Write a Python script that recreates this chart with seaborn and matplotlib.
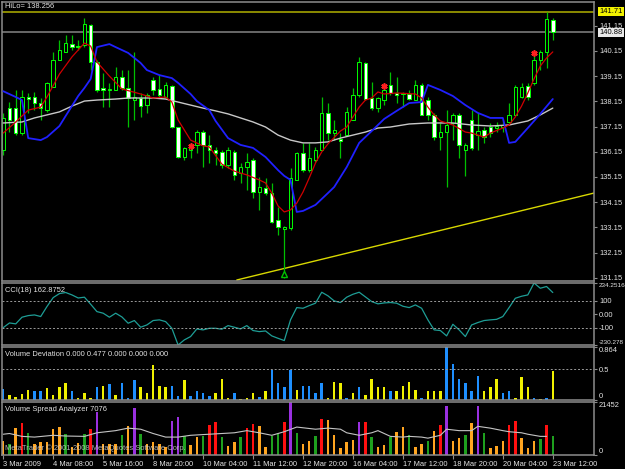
import matplotlib
matplotlib.use("Agg")
import matplotlib.pyplot as plt
import matplotlib.transforms as mtransforms
import seaborn as sns
import pandas as pd

# ---- H4 candles 3 Mar 2009 00:00 .. 23 Mar 2009 12:00 ----
opens = [136.22, 137.88, 137.88, 136.89, 138.32, 138.32, 138.08, 137.80, 138.72, 139.79,
         140.11, 140.42, 140.34, 140.38, 141.18, 139.71, 138.68, 138.60, 138.60, 139.11,
         138.68, 138.20, 138.28, 138.00, 138.99, 138.64, 138.32, 138.76, 137.13, 135.94,
         136.22, 136.42, 136.93, 136.42, 136.22, 136.14, 135.62, 136.14, 135.30, 135.54,
         135.82, 134.55, 134.71, 134.51, 133.44, 133.08, 133.12, 135.03, 136.10, 135.42,
         135.82, 136.22, 137.69, 136.89, 136.65, 136.81, 137.41, 138.40, 139.67, 138.28,
         137.88, 138.20, 138.80, 138.48, 138.44, 138.44, 138.20, 138.80, 138.20, 137.61,
         136.73, 136.93, 137.29, 137.61, 136.22, 137.41, 136.81, 137.01, 137.13, 137.09,
         137.13, 137.33, 137.61, 138.32, 138.76, 138.88, 139.79, 140.11, 141.38]
highs = [137.69, 138.12, 138.60, 138.60, 138.48, 138.52, 138.28, 138.92, 140.11, 140.58,
         140.78, 140.78, 140.58, 141.46, 141.22, 139.79, 139.27, 138.88, 139.51, 139.39,
         139.39, 140.11, 138.48, 138.48, 139.11, 139.19, 138.92, 138.80, 137.13, 136.34,
         136.50, 137.01, 137.01, 136.81, 136.34, 136.22, 136.34, 136.22, 135.70, 136.10,
         135.90, 135.15, 135.11, 134.91, 133.96, 133.20, 135.50, 136.14, 136.50, 136.50,
         136.34, 138.32, 138.08, 137.41, 136.89, 137.92, 138.68, 139.91, 139.71, 138.92,
         138.32, 138.80, 139.31, 139.11, 138.52, 138.60, 138.99, 138.88, 138.32, 137.69,
         137.29, 137.80, 137.69, 137.69, 136.50, 137.80, 137.69, 137.13, 137.29, 137.33,
         137.41, 138.08, 138.80, 138.88, 138.88, 139.99, 140.19, 141.71, 141.46]
lows = [136.02, 136.93, 136.81, 136.81, 137.69, 137.80, 137.41, 137.73, 138.72, 139.79,
        140.11, 140.19, 140.19, 140.30, 139.39, 138.52, 137.92, 137.92, 138.60, 138.60,
        137.13, 137.41, 137.53, 137.69, 138.40, 138.28, 138.28, 137.09, 135.90, 135.82,
        135.90, 136.10, 135.54, 135.70, 135.62, 135.50, 135.50, 135.03, 134.91, 134.63,
        134.31, 133.84, 134.43, 133.32, 132.84, 131.14, 133.04, 135.03, 135.34, 135.34,
        135.74, 136.22, 136.61, 136.61, 135.90, 136.81, 137.41, 138.32, 138.20, 137.80,
        137.73, 138.00, 138.40, 138.08, 137.92, 138.20, 138.20, 137.61, 137.41, 136.61,
        136.22, 134.75, 136.61, 135.90, 135.19, 136.22, 136.22, 136.50, 136.73, 136.93,
        136.93, 137.29, 137.61, 138.28, 138.20, 138.80, 139.39, 139.47, 140.58]
closes = [137.49, 137.41, 136.89, 138.32, 138.24, 138.08, 137.88, 138.88, 139.79, 140.19,
          140.46, 140.30, 140.30, 141.22, 139.71, 138.60, 138.60, 138.64, 139.11, 138.68,
          138.28, 138.32, 137.96, 138.40, 138.60, 138.40, 138.80, 137.13, 135.94, 136.30,
          136.34, 136.93, 136.42, 136.22, 136.10, 135.62, 136.22, 135.23, 135.54, 135.74,
          134.55, 134.75, 134.51, 133.36, 133.16, 133.16, 135.11, 136.10, 135.42, 135.90,
          136.22, 137.69, 136.89, 137.01, 136.57, 137.73, 138.40, 139.71, 138.24, 137.88,
          138.28, 138.60, 138.48, 138.40, 138.48, 138.24, 138.80, 137.61, 137.61, 136.73,
          136.93, 137.21, 137.61, 136.42, 136.42, 136.30, 136.97, 136.73, 136.89, 137.17,
          137.21, 137.61, 138.72, 138.72, 138.32, 139.79, 140.11, 141.42, 140.88]

# indicator lines on the price window (bar index, price)
red_bars = [0, 2, 4, 6, 7, 9, 11, 13, 14, 15, 17, 19, 22, 24, 26, 27, 28, 30, 32, 33,
            35, 37, 39, 41, 42, 43, 44, 45, 46, 47, 48, 49, 50, 51, 52, 54, 55, 56, 57, 58,
            59, 60, 61, 63, 66, 67, 68, 69, 70, 72, 74, 75, 77, 78, 80, 81, 82, 83, 84, 85,
            86, 87, 88]
red_ma = [136.89, 137.33, 137.80, 137.92, 138.32, 139.23, 139.91, 140.46, 140.34, 139.71,
          139.15, 138.64, 138.44, 138.28, 138.32, 138.12, 137.41, 136.61, 136.38, 136.34,
          135.66, 135.38, 135.23, 135.03, 134.91, 134.51, 134.00, 133.76, 133.84, 134.11,
          134.55, 135.11, 135.70, 136.14, 136.46, 136.97, 137.13, 137.53, 137.92, 138.20,
          138.28, 138.52, 138.44, 138.48, 138.44, 138.28, 137.92, 137.61, 137.37, 137.21,
          136.93, 136.89, 136.73, 136.89, 137.09, 137.21, 137.53, 137.96, 138.48, 139.04,
          139.55, 139.87, 140.11]
blue_bars = [0, 2, 3, 4, 6, 7, 9, 10, 12, 13, 14, 15, 17, 18, 20, 22, 23, 25, 27, 28,
             30, 31, 33, 34, 36, 38, 40, 42, 44, 45, 46, 47, 48, 50, 52, 53, 55, 56, 57, 59,
             61, 63, 65, 67, 68, 70, 72, 74, 76, 78, 80, 81, 82, 84, 86, 88]
blue_ma = [138.55, 138.32, 138.20, 136.69, 136.61, 136.73, 137.17, 137.57, 138.36, 138.68,
           139.04, 140.30, 140.42, 140.30, 140.07, 139.67, 139.39, 139.19, 139.07, 138.88,
           138.44, 138.16, 137.80, 137.37, 136.69, 136.42, 136.30, 135.94, 135.42, 135.19,
           135.03, 133.76, 133.80, 134.04, 134.51, 134.75, 135.54, 136.02, 136.50, 136.97,
           137.45, 137.77, 138.08, 138.12, 138.80, 138.60, 138.36, 138.00, 137.69, 137.49,
           137.49, 136.50, 136.54, 137.09, 137.65, 138.24]
white_bars = [0, 3, 5, 7, 9, 11, 13, 15, 18, 20, 24, 26, 28, 30, 32, 34, 36, 38, 40, 42,
              44, 46, 48, 50, 52, 54, 56, 58, 60, 62, 65, 68, 72, 75, 78, 81, 84, 86, 88]
white_ma = [137.29, 137.33, 137.49, 137.61, 137.73, 137.96, 138.16, 138.20, 138.24, 138.28,
            138.28, 138.24, 138.12, 138.00, 137.88, 137.77, 137.65, 137.49, 137.33, 137.13,
            136.81, 136.61, 136.50, 136.50, 136.54, 136.69, 136.81, 136.93, 137.09, 137.13,
            137.25, 137.29, 137.29, 137.21, 137.17, 137.21, 137.37, 137.61, 137.88]
star_bars = [30, 61, 85]
star_prices = [136.39, 138.76, 140.08]
arrow_bar = [45]
arrow_price = [131.30]
trend_bars = [37.4, 94.6]
trend_prices = [131.06, 134.51]
hi_line = 141.71
bid_line = 140.88
price_ticks = [141.15, 140.15, 139.15, 138.15, 137.15, 136.15, 135.15, 134.15, 133.15, 132.15, 131.15]

# CCI(18)
cci = [-100, -65, -72, -22, -10, -5, -17, 58, 125, 155,
       163, 145, 122, 128, 75, 20, 8, -22, 8, -20,
       -67, -47, -97, -80, -47, -42, -55, -105, -230.278, -192,
       -167, -110, -117, -105, -105, -112, -85, -97, -110, -85,
       -122, -130, -125, -162, -180, -197, -42, 50, 45, 65,
       83, 165, 138, 100, 88, 128, 150, 165, 130, 95,
       78, 85, 88, 83, 60, 50, 70, 45, -42, -117,
       -122, -162, -75, -117, -167, -80, -62, -47, -42, -38,
       -17, 50, 120, 135, 145, 234.2516, 195, 208, 162.8752]

# Volume Deviation (B = blue buffer, Y = yellow buffer)
vd = [0.18, 0.08, 0.05, 0.10, 0.16, 0.14, 0.15, 0.19, 0.08, 0.21,
      0.27, 0.15, 0.03, 0.11, 0.04, 0.21, 0.23, 0.26, 0.08, 0.28,
      0.03, 0.33, 0.21, 0.11, 0.57, 0.23, 0.22, 0.23, 0.07, 0.33,
      0.07, 0.14, 0.12, 0.07, 0.11, 0.35, 0.03, 0.12, 0.02, 0.03,
      0.12, 0.05, 0.15, 0.49, 0.28, 0.21, 0.49, 0.16, 0.23, 0.23,
      0.11, 0.28, 0.04, 0.29, 0.28, 0.03, 0.12, 0.21, 0.08, 0.35,
      0.21, 0.21, 0.15, 0.15, 0.23, 0.29, 0.17, 0.03, 0.14, 0.14,
      0.15, 0.864, 0.58, 0.35, 0.27, 0.14, 0.39, 0.14, 0.21, 0.35,
      0.12, 0.14, 0.03, 0.38, 0.21, 0.03, 0.02, 0.03, 0.477]
vd_kind = list("BYYYYBBYYY" "YBYYYBYBYB" "BBYYYYYBBY" "BBBBYYYBYY" "YBYBBBBYBB"
               "BBYYYBYBYY" "YYBYYYYBYY" "YBBBBBBYYY" "BBYYYBYBY")

# Volume Spread Analyzer (O orange, G green, R red, P purple)
vsa = [5800, 4350, 10900, 13050, 8990, 4350, 5075, 5365, 10440, 11310,
       8410, 3335, 4785, 8410, 10585, 17400, 4640, 4640, 4350, 8265,
       11600, 18850, 8700, 4350, 5075, 4640, 3190, 13775, 15225, 7540,
       4060, 7250, 7540, 12035, 13340, 7250, 3625, 5075, 7250, 10900,
       12615, 11600, 3190, 7540, 8700, 13340, 21452, 8990, 4350, 5800,
       7540, 14500, 14065, 7975, 2900, 5075, 6090, 13340, 13340, 7250,
       3190, 4060, 7250, 9425, 11310, 7975, 3190, 4640, 5510, 9860,
       12325, 20010, 5800, 6960, 8265, 12760, 20010, 8990, 2900, 3625,
       5510, 12325, 13775, 6700, 2900, 5800, 6525, 12035, 7540]
vsa_kind = list("OGORGOOOOO" "GOOGRPOOOG" "OPGOOOOPPG" "OOGRRGOOGR" "ROOGGRPGOO"
                "GROOOOOPRG" "OOGOOGOOGO" "RPOOGOPGOO" "ORROOOGRG")
vsa_ma_bars = [0, 1, 3, 5, 8, 10, 13, 15, 18, 20, 22, 24, 26, 28, 30, 33, 35, 37, 39, 41,
               43, 45, 47, 50, 52, 54, 55, 57, 59, 60, 62, 64, 65, 67, 68, 70, 71, 73, 75, 76,
               78, 80, 81, 83, 84, 86, 87]
vsa_ma = [8410, 8700, 7540, 7250, 7975, 7685, 7540, 8990, 9860, 10875,
          10440, 8700, 7250, 7250, 7975, 8410, 8700, 8990, 9860, 8990,
          7975, 9425, 11310, 10440, 10875, 10440, 8990, 7975, 8990, 9860,
          7540, 7250, 7540, 7250, 6815, 7975, 10440, 9860, 9860, 11600,
          10875, 9860, 9425, 8990, 8410, 7540, 7540]

time_label_bars = [0, 8, 16, 24, 32, 40, 48, 56, 64, 72, 80, 88]
time_labels = ["3 Mar 2009", "4 Mar 08:00", "5 Mar 16:00", "8 Mar 20:00", "10 Mar 04:00",
               "11 Mar 12:00", "12 Mar 20:00", "16 Mar 04:00", "17 Mar 12:00",
               "18 Mar 20:00", "20 Mar 04:00", "23 Mar 12:00"]

GRID = "#8c8c8c"
TXT = "#e4e4e4"
FS = 5.4

sns.set_theme(style="dark", rc={"axes.facecolor": "black", "figure.facecolor": "black",
                                "axes.grid": False, "axes.edgecolor": GRID})
plt.rcParams["font.family"] = ["Liberation Sans", "DejaVu Sans"]

W, H = 625, 469
fig = plt.figure(figsize=(W / 100, H / 100), dpi=100)


def panel(top, bottom):
    # one MT4 sub-window, in pixel rows
    left, right = 2, 594
    ax = fig.add_axes([left / W, 1 - bottom / H, (right - left) / W, (bottom - top) / H])
    ax.set_facecolor("black")
    for s in ax.spines.values():
        s.set_color(GRID)
        s.set_linewidth(1.1)
    ax.yaxis.tick_right()
    ax.tick_params(axis="y", direction="out", length=2.5, width=0.8, color=GRID,
                   labelcolor=TXT, labelsize=FS, pad=1.2)
    ax.tick_params(axis="x", bottom=False, labelbottom=False)
    ax.set_xlim(-0.2, 94.6)
    return ax


def caption(ax, text, dy):
    ax.annotate(text, xy=(0, 1), xycoords="axes fraction", xytext=(2.2, dy),
                textcoords="offset points", ha="left", va="top", fontsize=FS, color=TXT)


ax_main = panel(2, 281)
ax_cci = panel(283, 345)
ax_vd = panel(347, 400)
ax_vsa = panel(402, 455)

# ---- price window ----
df = pd.DataFrame({"open": opens, "high": highs, "low": lows, "close": closes})
df["bar"] = range(len(df))
df["bull"] = df["close"] >= df["open"]
df["body_lo"] = df[["open", "close"]].min(axis=1)
df["body_h"] = (df["close"] - df["open"]).abs().clip(lower=0.035)

ax_main.axhline(hi_line, color="#a3a300", lw=1.2, zorder=1)
ax_main.axhline(bid_line, color="#7a7a7a", lw=1.2, zorder=1)
sns.lineplot(x=trend_bars, y=trend_prices, ax=ax_main, color="#d8d800", lw=1.0, zorder=1)

ax_main.vlines(df["bar"], df["low"], df["high"], color="#00c000", lw=0.9, zorder=2)
ax_main.bar(df["bar"], df["body_h"], bottom=df["body_lo"], width=0.55,
            color=["black" if b else "white" for b in df["bull"]],
            edgecolor="#00ff00", linewidth=0.7, zorder=2.5)

sns.lineplot(x=white_bars, y=white_ma, ax=ax_main, color="#c8c8c8", lw=1.0, zorder=3)
sns.lineplot(x=blue_bars, y=blue_ma, ax=ax_main, color="#2020ff", lw=1.3, zorder=3)
sns.lineplot(x=red_bars, y=red_ma, ax=ax_main, color="#d00000", lw=0.9, zorder=3.2)
ax_main.plot(star_bars, star_prices, ls="none", marker=(6, 2, 0), ms=4.5,
             mec="#ff2020", mew=1.2, zorder=4)
ax_main.plot(arrow_bar, arrow_price, ls="none", marker="^", ms=5, mfc="black",
             mec="#00c000", mew=1.0, zorder=4)

ax_main.set_ylim(131.02, 142.09)
ax_main.set_yticks(price_ticks)
ax_main.set_yticklabels([f"{v:.2f}" for v in price_ticks])
trans = mtransforms.blended_transform_factory(ax_main.transAxes, ax_main.transData)
ax_main.text(1.009, hi_line, f"{hi_line:.2f}", transform=trans, ha="left", va="center",
             fontsize=FS, color="black",
             bbox=dict(boxstyle="square,pad=0.15", fc="#f2f200", ec="none"))
ax_main.text(1.009, bid_line, f"{bid_line:.2f}", transform=trans, ha="left", va="center",
             fontsize=FS, color="black",
             bbox=dict(boxstyle="square,pad=0.15", fc="#e8e8e8", ec="none"))
caption(ax_main, "HiLo= 138.256", -1.0)

# ---- CCI ----
sns.lineplot(x=list(range(len(cci))), y=cci, ax=ax_cci, color="#1e9e96", lw=0.9)
for lvl in (100, -100):
    ax_cci.axhline(lvl, color="#9a9a9a", lw=0.7, ls=(0, (2, 2)))
ax_cci.set_ylim(min(cci), max(cci))
ax_cci.set_yticks([max(cci), 100, 0, -100, min(cci)])
ax_cci.set_yticklabels(["234.2516", "100", "0.00", "-100", "-230.278"])
caption(ax_cci, "CCI(18) 162.8752", -3.0)

# ---- Volume Deviation ----
vd_colors = {"B": "#1e8fff", "Y": "#f0f000"}
ax_vd.bar(range(len(vd)), vd, width=0.4, color=[vd_colors[k] for k in vd_kind], linewidth=0)
ax_vd.axhline(0.5, color="#9a9a9a", lw=0.7, ls=(0, (2, 2)))
ax_vd.set_ylim(0, max(vd))
ax_vd.set_yticks([max(vd), 0.5, 0])
ax_vd.set_yticklabels(["0.864", "0.5", "0"])
caption(ax_vd, "Volume Deviation 0.000 0.477 0.000 0.000 0.000", -3.0)

# ---- Volume Spread Analyzer ----
vsa_colors = {"O": "#ffa520", "G": "#1ea01e", "R": "#ff1010", "P": "#9a30e0"}
ax_vsa.bar(range(len(vsa)), vsa, width=0.4, color=[vsa_colors[k] for k in vsa_kind], linewidth=0)
sns.lineplot(x=vsa_ma_bars, y=vsa_ma, ax=ax_vsa, color="#c4c4c4", lw=0.8)
ax_vsa.set_ylim(0, max(vsa))
ax_vsa.set_yticks([max(vsa), 0])
ax_vsa.set_yticklabels(["21452", "0"])
caption(ax_vsa, "Volume Spread Analyzer 7076", -3.0)
ax_vsa.annotate("MetaTrader \u00a9 2001-2008 MetaQuotes Software Corp.", xy=(0, 0),
                xycoords="axes fraction", xytext=(2.2, 2.0), textcoords="offset points",
                ha="left", va="bottom", fontsize=FS, color="#d0d0d0", alpha=0.85)

ax_vsa.set_xticks(time_label_bars)
ax_vsa.set_xticklabels(time_labels, ha="left")
ax_vsa.tick_params(axis="x", bottom=True, labelbottom=True, direction="out", length=3,
                   width=0.8, color=GRID, labelcolor=TXT, labelsize=FS, pad=1.5)

# top/bottom scale labels sit inside the window like in MT4
for ax in (ax_cci, ax_vd, ax_vsa):
    labels = ax.get_yticklabels()
    labels[0].set_va("top")
    labels[-1].set_va("bottom")
# the long CCI extremes are squeezed so they stay inside the picture
cci_labels = ax_cci.get_yticklabels()
for lbl in (cci_labels[0], cci_labels[-1]):
    lbl.set_fontsize(4.6)
for ax in (ax_main, ax_cci, ax_vd, ax_vsa):
    ax.set_xlabel("")
    ax.set_ylabel("")

fig.savefig("out.png", dpi=100, facecolor="black")
